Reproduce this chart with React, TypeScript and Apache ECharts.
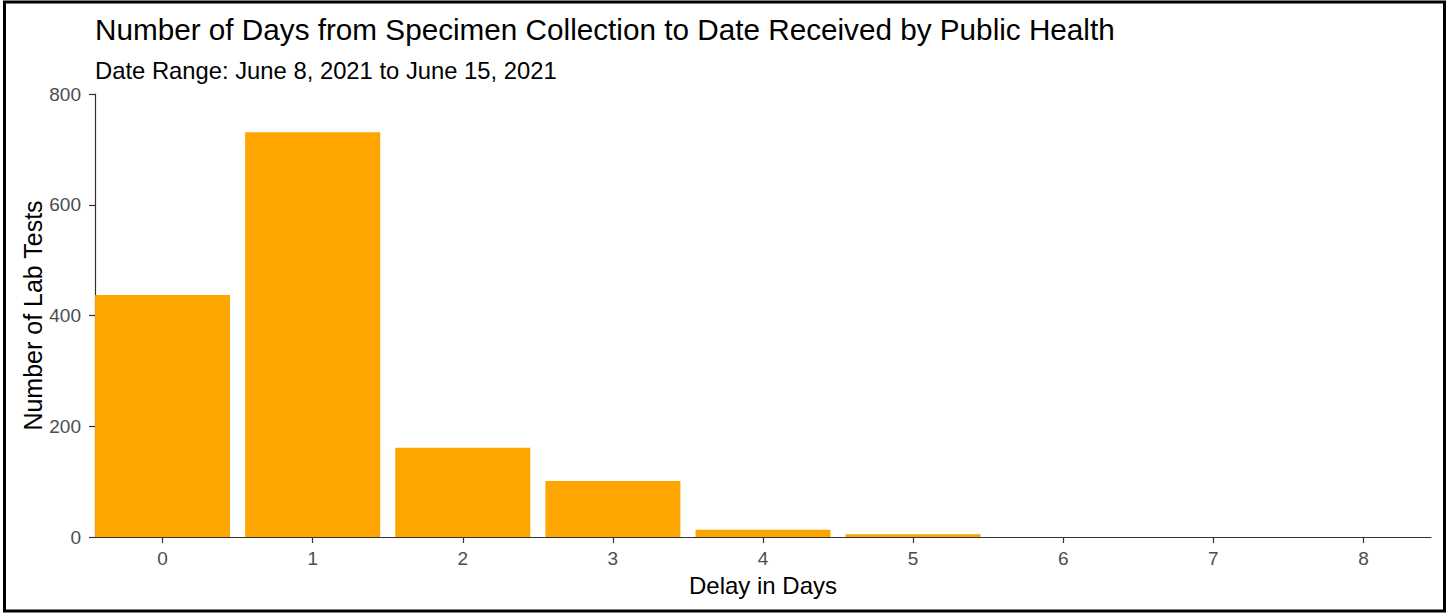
import React, { useEffect, useRef } from "react";
import * as echarts from "echarts";

const delayDays = [0, 1, 2, 3, 4, 5, 6, 7, 8];
const labTests = [437, 731, 161, 101, 13, 5, 0, 0, 0];
const yTicks = [0, 200, 400, 600, 800];

const titleText = "Number of Days from Specimen Collection to Date Received by Public Health";
const subtitleText = "Date Range: June 8, 2021 to June 15, 2021";
const xName = "Delay in Days";
const yName = "Number of Lab Tests";

const FONT = "Liberation Sans, Arial, sans-serif";

export default function App() {
  const ref = useRef<HTMLDivElement>(null);
  useEffect(() => {
    document.body.style.margin = "0";
    if (!ref.current) return;
    const chart = echarts.init(ref.current, null, { renderer: "svg" });
    chart.setOption({
      animation: false,
      backgroundColor: "#ffffff",
      title: {
        text: titleText,
        subtext: subtitleText,
        left: 90,
        top: 9,
        itemGap: 14,
        textStyle: { fontFamily: FONT, fontSize: 29.7, fontWeight: "normal", color: "#000" },
        subtextStyle: { fontFamily: FONT, fontSize: 23.8, color: "#000" },
      },
      graphic: [
        {
          type: "rect",
          shape: { x: 4.5, y: 2, width: 1440, height: 609 },
          style: { fill: "none", stroke: "#000", lineWidth: 3 },
          silent: true,
        },
      ],
      grid: { left: 95, right: 17, top: 94, bottom: 77, containLabel: false },
      xAxis: {
        type: "value",
        min: -0.45,
        max: 8.45,
        name: xName,
        nameLocation: "middle",
        nameGap: 36,
        nameTextStyle: { fontFamily: FONT, fontSize: 24, color: "#000" },
        splitLine: { show: false },
        axisLine: { show: true, onZero: false, lineStyle: { color: "#333", width: 1.2 } },
        axisTick: { show: true, length: 6, customValues: delayDays, lineStyle: { color: "#333", width: 1.2 } },
        axisLabel: {
          customValues: delayDays,
          margin: 12,
          fontFamily: FONT,
          fontSize: 19,
          color: "#4D4D4D",
        },
      },
      yAxis: {
        type: "value",
        min: 0,
        max: 800,
        interval: 200,
        name: yName,
        nameLocation: "middle",
        nameGap: 50,
        nameMoveOverlap: false,
        nameTextStyle: { fontFamily: FONT, fontSize: 25, color: "#000" },
        splitLine: { show: false },
        axisLine: { show: true, onZero: false, lineStyle: { color: "#333", width: 1.2 } },
        axisTick: { show: true, length: 6, lineStyle: { color: "#333", width: 1.2 } },
        axisLabel: {
          margin: 14,
          fontFamily: FONT,
          fontSize: 19,
          color: "#4D4D4D",
          formatter: (v: number) => (yTicks.includes(v) ? String(v) : ""),
        },
      },
      series: [
        {
          type: "bar",
          barWidth: 135,
          data: delayDays.map((d, i) => [d, labTests[i]]),
          itemStyle: { color: "#FFA500" },
          z: 1,
        },
      ],
    });
    return () => chart.dispose();
  }, []);
  return <div ref={ref} style={{ width: 1448, height: 614 }} />;
}
